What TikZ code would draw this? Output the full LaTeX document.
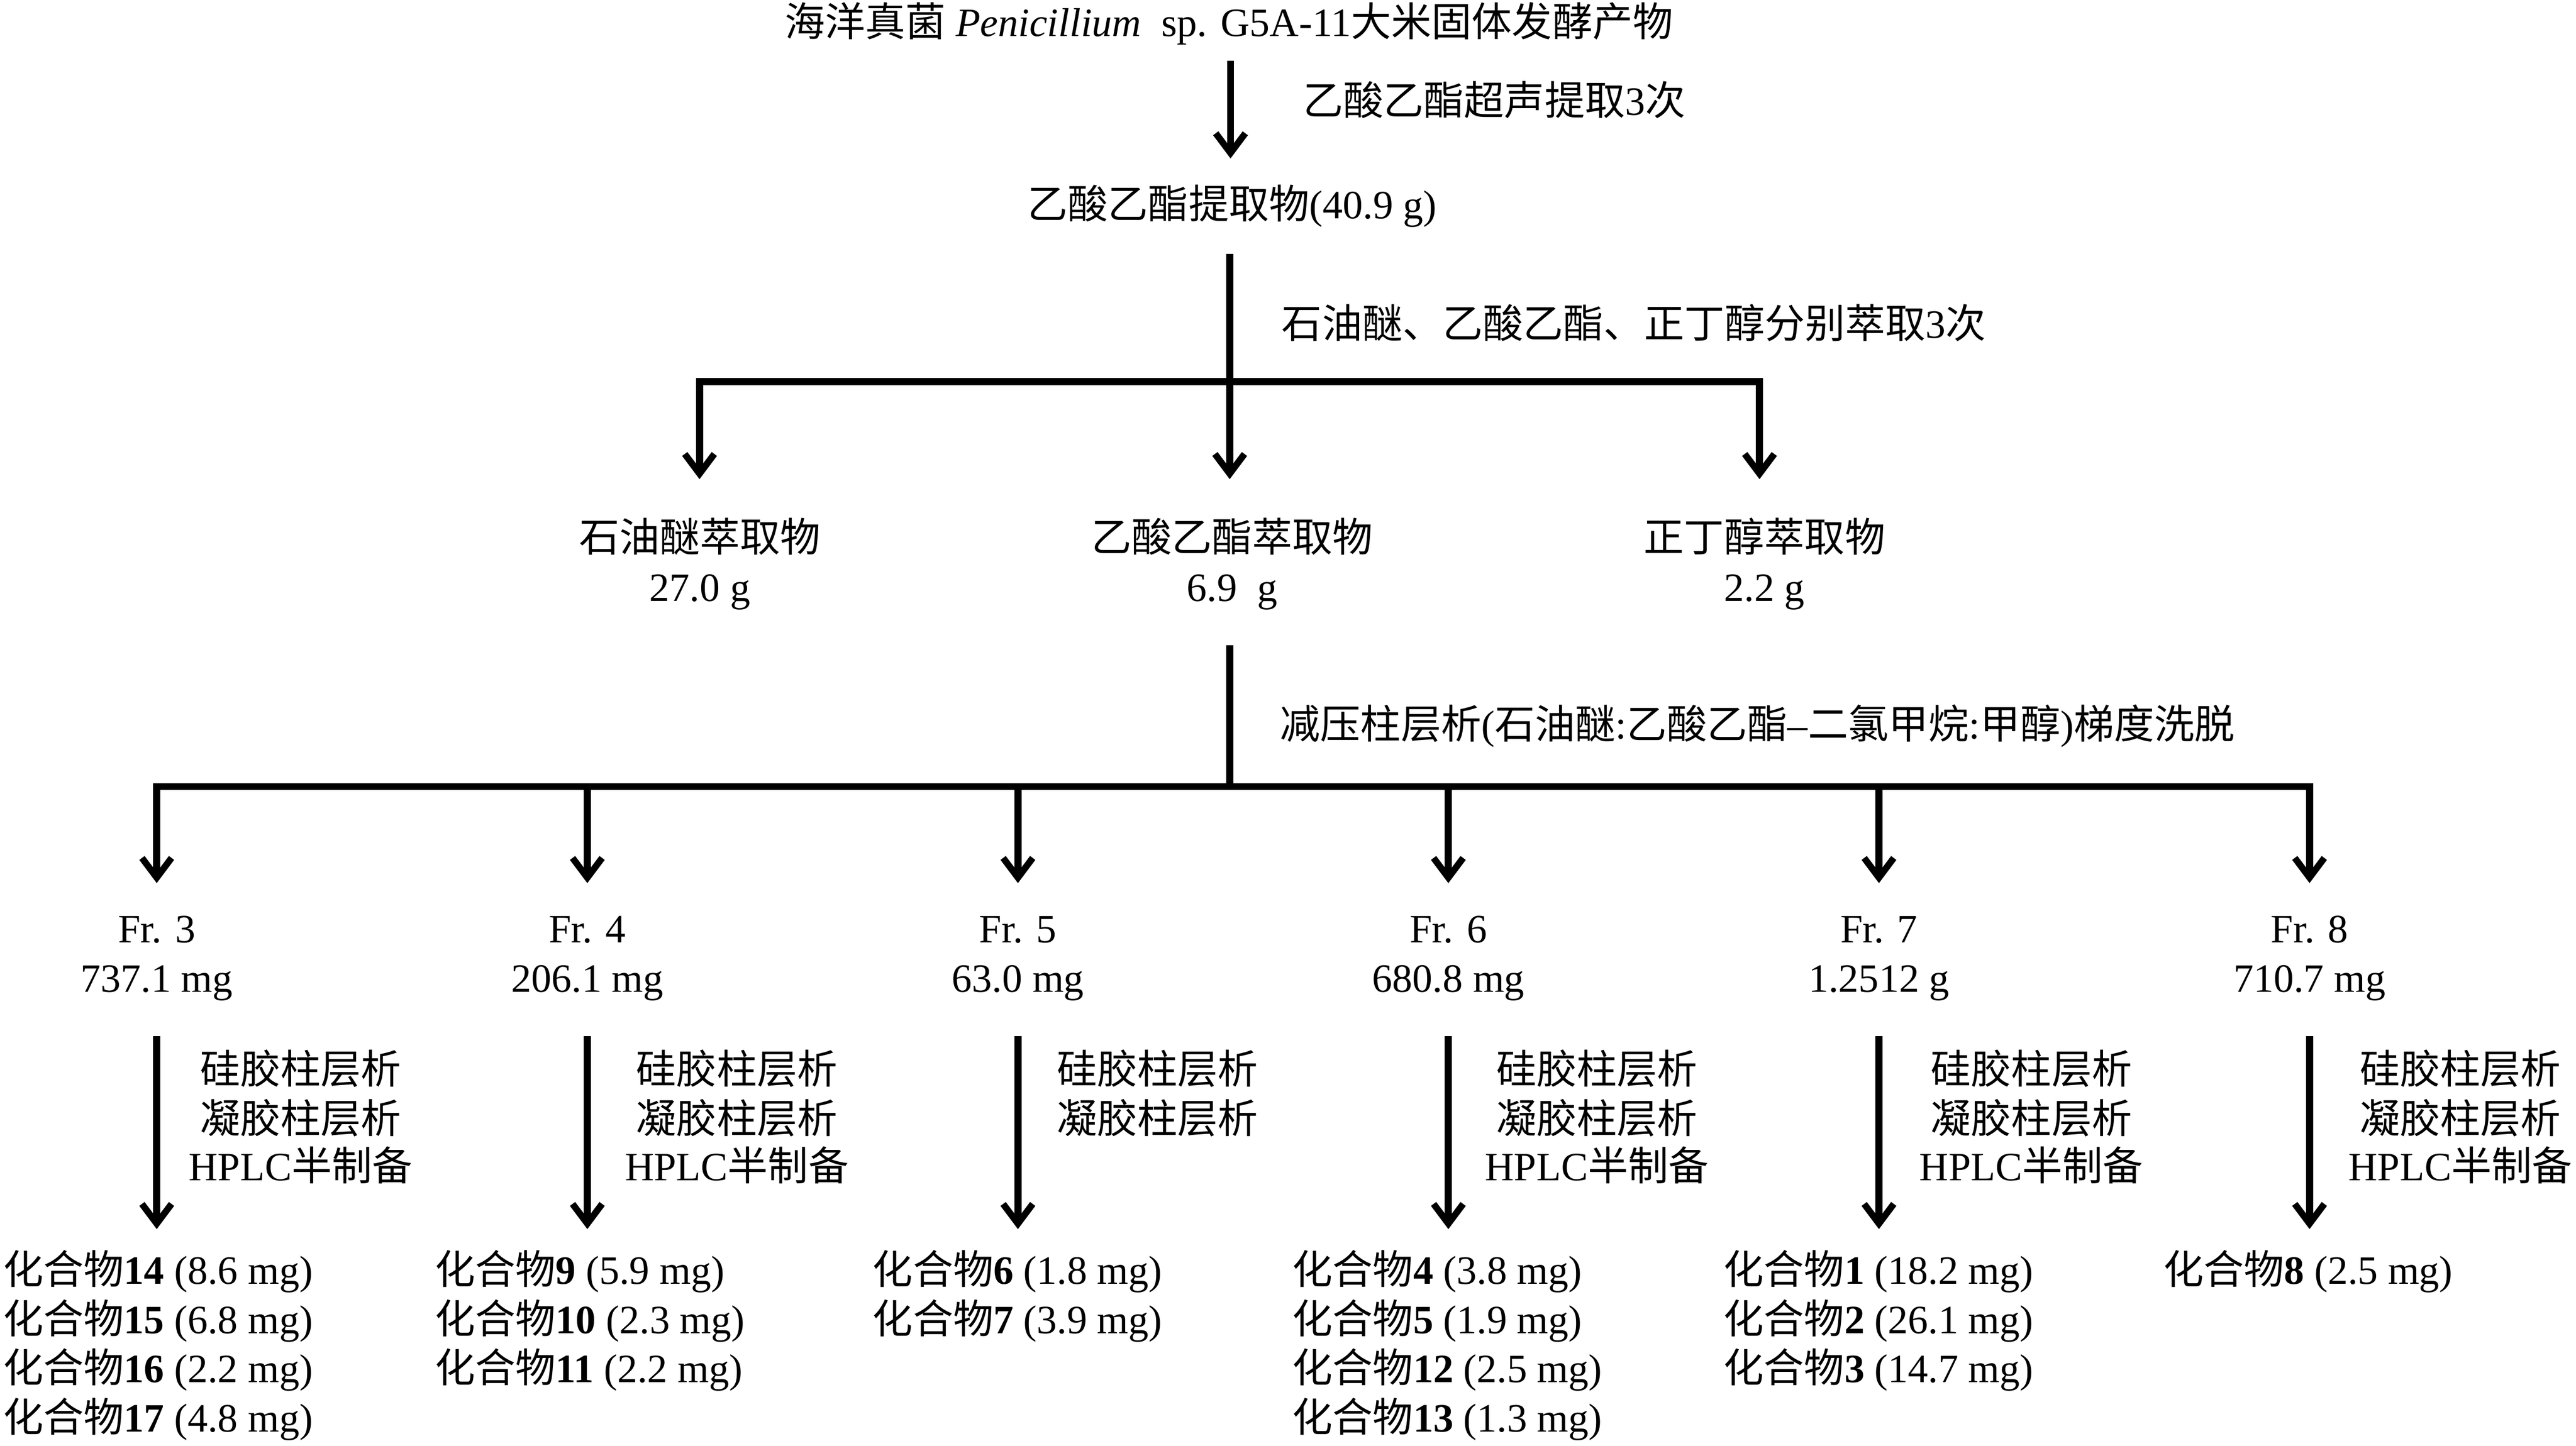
\documentclass[tikz,border=0pt]{standalone}
\usepackage{fontspec}
\setmainfont{Liberation Serif}
\newfontfamily\cjk{Noto Sans CJK SC}
\newcommand\zh[1]{{\cjk #1}}
\newcommand\cpd[2]{\zh{化合物}\textbf{#1} (#2)}
\usetikzlibrary{arrows.meta}
\begin{document}
\begin{tikzpicture}[x=1pt,y=-1pt,
  txt/.style={inner sep=0pt,anchor=base,font=\fontsize{24.5}{30}\selectfont},
  txtl/.style={txt,anchor=base west},
  ln/.style={line width=4.3pt},
  arr/.style={line width=4.3pt,-{Straight Barb[length=12pt,width=18pt,line width=4pt]}}]
\useasboundingbox (0,0) rectangle (1568,880.5);
% level 0
\node[txt] (title) at (748,22) {\zh{海洋真菌} \textit{Penicillium}\ \ sp. G5A-11\zh{大米固体发酵产物}};
\coordinate (a1s) at (749,37);
\coordinate (a1e) at (749,96.5);
\draw[arr] (a1s) -- (a1e);
\node[txtl] (l1) at (793,70) {\zh{乙酸乙酯超声提取}3\zh{次}};
\node[txt] (ext) at (750,133) {\zh{乙酸乙酯提取物}(40.9 g)};
% fork 1
\coordinate (s2) at (748.5,154.7);
\coordinate (j1) at (748.5,232.4);
\coordinate (t1) at (425.8,291.8);
\coordinate (t2) at (748.5,291.8);
\coordinate (t3) at (1071,291.8);
\draw[ln] (s2) -- (j1);
\draw[arr] (j1) -| (t1);
\draw[arr] (j1) -- (t2);
\draw[arr] (j1) -| (t3);
\node[txtl] (l2) at (780,206) {\zh{石油醚、乙酸乙酯、正丁醇分别萃取}3\zh{次}};
\node[txt] (pe) at (426,336) {\zh{石油醚萃取物}};
\node[txt] (pem) at (426,366) {27.0 g};
\node[txt] (ea) at (750,336) {\zh{乙酸乙酯萃取物}};
\node[txt] (eam) at (750,366) {6.9\ \ g};
\node[txt] (nb) at (1074,336) {\zh{正丁醇萃取物}};
\node[txt] (nbm) at (1074,366) {2.2 g};
% fork 2
\coordinate (s3) at (748.5,393);
\coordinate (j2) at (748.5,479);
\draw[ln] (s3) -- (j2);
\node[txtl] (l3) at (779,450) {\zh{减压柱层析}(\zh{石油醚}:\zh{乙酸乙酯}--\zh{二氯甲烷}:\zh{甲醇})\zh{梯度洗脱}};
\foreach \n/\x/\m in {3/95.4/737.1 mg,4/357.5/206.1 mg,5/619.6/63.0 mg,6/881.6/680.8 mg,7/1143.7/1.2512 g,8/1405.8/710.7 mg}{
  \coordinate (ft\n) at (\x,537.8);
  \draw[arr] (j2) -| (ft\n);
  \node[txt] (fr\n) at (\x,574) {Fr. \n};
  \node[txt] (frm\n) at (\x,604) {\m};
  \coordinate (ms\n) at (\x,631);
  \coordinate (me\n) at (\x,748.5);
  \draw[arr] (ms\n) -- (me\n);
}
% method labels
\foreach \n/\x in {3/183,4/448.5,6/972,7/1236.5,8/1497.6}{
  \node[txt] (ma\n) at (\x,660) {\zh{硅胶柱层析}};
  \node[txt] (mb\n) at (\x,690) {\zh{凝胶柱层析}};
  \node[txt] (mc\n) at (\x,719) {HPLC\zh{半制备}};
}
\node[txt] (ma5) at (704.5,660) {\zh{硅胶柱层析}};
\node[txt] (mb5) at (704.5,690) {\zh{凝胶柱层析}};
% compounds
\node[txtl] (c14) at (1.7,782) {\cpd{14}{8.6 mg}};
\node[txtl] (c15) at (1.7,812) {\cpd{15}{6.8 mg}};
\node[txtl] (c16) at (1.7,842) {\cpd{16}{2.2 mg}};
\node[txtl] (c17) at (1.7,872) {\cpd{17}{4.8 mg}};
\node[txtl] (c9) at (264.6,782) {\cpd{9}{5.9 mg}};
\node[txtl] (c10) at (264.6,812) {\cpd{10}{2.3 mg}};
\node[txtl] (c11) at (264.6,842) {\cpd{11}{2.2 mg}};
\node[txtl] (c6) at (531,782) {\cpd{6}{1.8 mg}};
\node[txtl] (c7) at (531,812) {\cpd{7}{3.9 mg}};
\node[txtl] (c4) at (786.5,782) {\cpd{4}{3.8 mg}};
\node[txtl] (c5) at (786.5,812) {\cpd{5}{1.9 mg}};
\node[txtl] (c12) at (786.5,842) {\cpd{12}{2.5 mg}};
\node[txtl] (c13) at (786.5,872) {\cpd{13}{1.3 mg}};
\node[txtl] (c1) at (1049,782) {\cpd{1}{18.2 mg}};
\node[txtl] (c2) at (1049,812) {\cpd{2}{26.1 mg}};
\node[txtl] (c3) at (1049,842) {\cpd{3}{14.7 mg}};
\node[txtl] (c8) at (1316.6,782) {\cpd{8}{2.5 mg}};
\end{tikzpicture}
\end{document}
